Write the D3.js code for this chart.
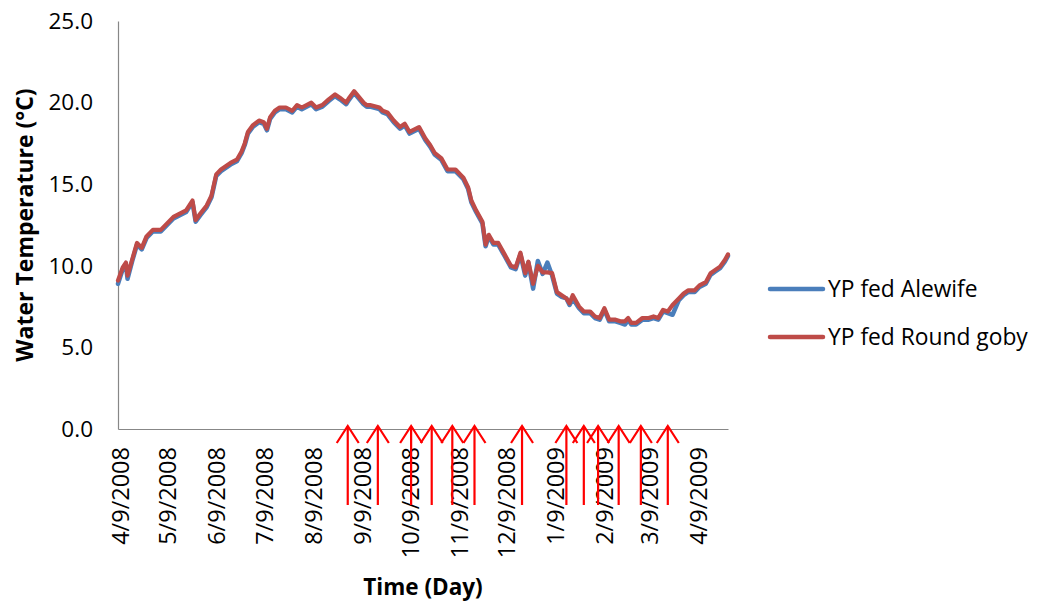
<!DOCTYPE html>
<html>
<head>
<meta charset="utf-8">
<script src="https://cdn.jsdelivr.net/npm/d3@7"></script>
<style>
  html, body { margin: 0; padding: 0; background: #fff; }
  svg { display: block; }
</style>
</head>
<body>
<svg id="chart" width="1037" height="605"></svg>
<script>
// ---------- data ----------
const dates = [
  "2008-04-08","2008-04-11","2008-04-13","2008-04-14","2008-04-17","2008-04-20","2008-04-23","2008-04-26","2008-04-30",
  "2008-05-05","2008-05-07","2008-05-09","2008-05-13","2008-05-17","2008-05-21","2008-05-25","2008-05-27","2008-05-30",
  "2008-06-03","2008-06-06","2008-06-09","2008-06-12","2008-06-18","2008-06-22","2008-06-25","2008-06-27","2008-06-29",
  "2008-07-02","2008-07-06","2008-07-09","2008-07-11","2008-07-13","2008-07-16","2008-07-19","2008-07-23","2008-07-27","2008-07-30",
  "2008-08-02","2008-08-05","2008-08-08","2008-08-11","2008-08-15","2008-08-19","2008-08-23","2008-08-26","2008-08-30",
  "2008-09-01","2008-09-04","2008-09-07","2008-09-10","2008-09-12","2008-09-14","2008-09-20","2008-09-22","2008-09-25","2008-09-29",
  "2008-10-03","2008-10-06","2008-10-09","2008-10-15","2008-10-19","2008-10-22","2008-10-25","2008-10-29",
  "2008-11-02","2008-11-07","2008-11-10","2008-11-12","2008-11-15","2008-11-17","2008-11-20","2008-11-24","2008-11-26","2008-11-28",
  "2008-12-01","2008-12-04","2008-12-08","2008-12-12","2008-12-15","2008-12-18","2008-12-21","2008-12-23","2008-12-26","2008-12-29",
  "2009-01-01","2009-01-04","2009-01-07","2009-01-10","2009-01-13","2009-01-16","2009-01-18","2009-01-20","2009-01-24","2009-01-27","2009-01-31",
  "2009-02-03","2009-02-06","2009-02-09","2009-02-12","2009-02-16","2009-02-19","2009-02-22","2009-02-24","2009-02-26",
  "2009-03-01","2009-03-05","2009-03-09","2009-03-12","2009-03-15","2009-03-18","2009-03-21","2009-03-24","2009-03-28","2009-03-31",
  "2009-04-03","2009-04-07","2009-04-10","2009-04-14","2009-04-17","2009-04-20","2009-04-23","2009-04-26","2009-04-28"
];

const alewife = [
  8.9, 9.8, 10.1, 9.2, 10.3, 11.3, 11.0, 11.7, 12.1,
  12.1, 12.3, 12.5, 12.9, 13.1, 13.3, 13.9, 12.7, 13.1,
  13.6, 14.2, 15.5, 15.8, 16.2, 16.4, 16.9, 17.4, 18.1,
  18.5, 18.8, 18.7, 18.3, 19.0, 19.4, 19.6, 19.6, 19.4, 19.75,
  19.6, 19.75, 19.9, 19.6, 19.75, 20.1, 20.4, 20.2, 19.9,
  20.2, 20.6, 20.25, 19.9, 19.75, 19.75, 19.6, 19.4, 19.3, 18.8,
  18.4, 18.6, 18.1, 18.4, 17.7, 17.3, 16.8, 16.5,
  15.8, 15.8, 15.5, 15.3, 14.7, 13.9, 13.3, 12.6, 11.2, 11.8,
  11.3, 11.3, 10.6, 9.9, 9.8, 10.7, 9.4, 10.2, 8.6, 10.3,
  9.5, 10.2, 9.4, 8.3, 8.1, 8.0, 7.6, 8.0, 7.4, 7.1, 7.1,
  6.8, 6.7, 7.3, 6.6, 6.6, 6.5, 6.4, 6.7, 6.4,
  6.4, 6.7, 6.7, 6.8, 6.7, 7.2, 7.1, 7.0, 7.9, 8.2,
  8.4, 8.4, 8.7, 8.9, 9.45, 9.65, 9.85, 10.25, 10.6
];

const roundGoby = [
  9.1, 9.9, 10.2, 9.4, 10.4, 11.4, 11.1, 11.8, 12.2,
  12.2, 12.4, 12.6, 13.0, 13.2, 13.4, 14.0, 12.8, 13.2,
  13.7, 14.3, 15.6, 15.9, 16.3, 16.5, 17.0, 17.5, 18.2,
  18.6, 18.9, 18.8, 18.4, 19.1, 19.5, 19.7, 19.7, 19.5, 19.85,
  19.7, 19.85, 20.0, 19.7, 19.85, 20.2, 20.5, 20.3, 20.0,
  20.3, 20.7, 20.35, 20.0, 19.85, 19.85, 19.7, 19.5, 19.4, 18.9,
  18.5, 18.7, 18.2, 18.5, 17.8, 17.4, 16.9, 16.6,
  15.9, 15.9, 15.6, 15.4, 14.8, 14.0, 13.4, 12.7, 11.3, 11.9,
  11.4, 11.4, 10.7, 10.0, 9.9, 10.8, 9.55, 10.25, 8.9, 10.0,
  9.6, 9.6, 9.55, 8.4, 8.2, 8.0, 7.7, 8.2, 7.5, 7.2, 7.2,
  6.9, 6.8, 7.4, 6.7, 6.7, 6.6, 6.6, 6.8, 6.5,
  6.5, 6.8, 6.8, 6.9, 6.8, 7.3, 7.2, 7.6, 8.0, 8.3,
  8.5, 8.5, 8.8, 9.0, 9.55, 9.75, 9.95, 10.35, 10.7
];

const seriesNames = ["YP fed Alewife", "YP fed Round goby"];
const xTickDates = ["2008-04-09","2008-05-09","2008-06-09","2008-07-09","2008-08-09","2008-09-09","2008-10-09",
                    "2008-11-09","2008-12-09","2009-01-09","2009-02-09","2009-03-09","2009-04-09"];
const yTicks = [0, 5, 10, 15, 20, 25];
const arrowDates = ["2008-08-31","2008-09-19","2008-10-10","2008-10-23","2008-11-05","2008-11-19","2008-12-19",
                    "2009-01-16","2009-01-27","2009-02-05","2009-02-18","2009-03-04","2009-03-21"];
const xDomain = ["2008-04-08", "2009-04-28"];

// ---------- chart ----------
const parse = d3.utcParse("%Y-%m-%d");
const fmt = d3.utcFormat("%-m/%-d/%Y");
const FONT = "'Open Sans', 'Liberation Sans', sans-serif";

const svg = d3.select("#chart");
svg.append("rect").attr("width", 1037).attr("height", 605).attr("fill", "#fff");

const x = d3.scaleUtc().domain(xDomain.map(parse)).range([118, 728]);
const y = d3.scaleLinear().domain([0, 25]).range([429, 21]);

// Y axis
const yAxis = svg.append("g").attr("transform", "translate(118,0)")
  .call(d3.axisLeft(y).tickValues(yTicks).tickFormat(d3.format(".1f")).tickSize(0).tickSizeOuter(0).tickPadding(25));
yAxis.select(".domain").attr("stroke", "#878787").attr("stroke-width", 1.2);
yAxis.selectAll("text").attr("font-family", FONT).attr("font-size", 22.5).attr("fill", "#000");

// X axis
const xAxis = svg.append("g").attr("transform", "translate(0,429)")
  .call(d3.axisBottom(x).tickValues(xTickDates.map(parse)).tickFormat(fmt).tickSize(0).tickSizeOuter(0));
xAxis.select(".domain").attr("stroke", "#878787").attr("stroke-width", 1.2);
xAxis.selectAll("text")
  .attr("font-family", FONT).attr("font-size", 23.5).attr("fill", "#000")
  .attr("transform", "rotate(-90)")
  .attr("x", -18).attr("y", 0).attr("dy", "0.36em")
  .attr("text-anchor", "end");

// Lines
const rows = dates.map((d, i) => ({ date: parse(d), a: alewife[i], g: roundGoby[i] }));
const lineA = d3.line().x(d => x(d.date)).y(d => y(d.a));
const lineG = d3.line().x(d => x(d.date)).y(d => y(d.g));
svg.append("path").datum(rows).attr("d", lineA)
  .attr("fill", "none").attr("stroke", "#4A7EBB").attr("stroke-width", 4.5)
  .attr("stroke-linejoin", "round").attr("stroke-linecap", "round");
svg.append("path").datum(rows).attr("d", lineG)
  .attr("fill", "none").attr("stroke", "#BE4B48").attr("stroke-width", 4.2)
  .attr("stroke-linejoin", "round").attr("stroke-linecap", "round");

// Arrows
const arrowG = svg.append("g").attr("stroke", "#ff0000").attr("stroke-width", 2.2).attr("fill", "none");
arrowDates.forEach(d => {
  const ax = x(parse(d));
  const tip = y(0) - 3;
  arrowG.append("path").attr("d", `M${ax},${tip + 79}L${ax},${tip}`);
  arrowG.append("path").attr("d", `M${ax - 11},${tip + 17}L${ax},${tip}L${ax + 11},${tip + 17}`);
});

// Axis titles
svg.append("text")
  .attr("transform", "translate(33,225) rotate(-90)")
  .attr("text-anchor", "middle")
  .attr("font-family", FONT).attr("font-weight", "bold").attr("font-size", 23).attr("fill", "#000")
  .text("Water Temperature (°C)");
svg.append("text")
  .attr("x", 423).attr("y", 595)
  .attr("text-anchor", "middle")
  .attr("font-family", FONT).attr("font-weight", "bold").attr("font-size", 22.5).attr("fill", "#000")
  .text("Time (Day)");

// Legend
const legendColors = ["#4A7EBB", "#BE4B48"];
const legendY = [289, 337];
seriesNames.forEach((name, i) => {
  svg.append("line").attr("x1", 770).attr("x2", 823).attr("y1", legendY[i]).attr("y2", legendY[i])
    .attr("stroke", legendColors[i]).attr("stroke-width", 4.5).attr("stroke-linecap", "round");
  svg.append("text").attr("x", 828).attr("y", legendY[i] + 8)
    .attr("font-family", FONT).attr("font-size", 22.8).attr("fill", "#000")
    .text(name);
});
</script>
</body>
</html>
